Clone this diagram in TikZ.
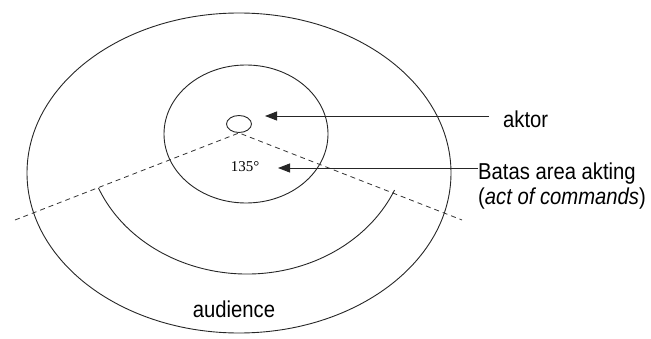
\documentclass[tikz,border=0pt]{standalone}
\usepackage{fontspec}
\setmainfont{Liberation Sans}[FakeStretch=0.88]
\newfontfamily\numfont{Liberation Serif}
\usetikzlibrary{arrows.meta,shapes.geometric,calc}
\begin{document}
\begin{tikzpicture}[x=1pt,y=1pt,
  ln/.style={draw=black!85,line width=0.9pt},
  ring/.style={ln,ellipse,inner sep=0pt},
  dsh/.style={draw=black!80,line width=0.8pt,dash pattern=on 5pt off 4pt},
  arr/.style={ln,-{Triangle[length=12pt,width=9pt]}},
  lbl/.style={inner sep=0pt,font=\fontsize{23}{24}\selectfont}]
\useasboundingbox (0,0) rectangle (651,338);
% rings
\node[ring,minimum width=424pt,minimum height=320pt] (outer) at (239,165) {};
\node[ring,minimum width=164pt,minimum height=138pt] (inner) at (246,204) {};
\node[ring,minimum width=25pt,minimum height=17pt] (actor) at (239,214) {};
% viewing angle
\coordinate (dl) at (15,118);
\coordinate (dr) at (462,118);
\draw[dsh] (dl) -- (actor.south) -- (dr);
% acting boundary arc
\coordinate (arcstart) at ($(247,204)+(202.7:161pt and 140pt)$);
\draw[ln] (arcstart) arc[start angle=202.7,end angle=336.4,x radius=161,y radius=140];
% labels
\node[lbl,anchor=base west] (aktor) at (503,210) {aktor};
\node[lbl,anchor=base west] (batas) at (478,158) {Batas area akting};
\node[lbl,anchor=base west] (actof) at (478,134) {(\textit{act of commands})};
\node[lbl,anchor=base] (aud) at (234,21) {audience};
\node[inner sep=0pt,font=\numfont\fontsize{15}{17}\selectfont] (deg) at (245,171) {135°};
% arrows
\coordinate (tipA) at (265,222);
\coordinate (tipB) at (278,170);
\draw[arr] ([xshift=-14pt]aktor.west |- tipA) -- (tipA);
\draw[arr] (batas.west |- tipB) -- (tipB);
\end{tikzpicture}
\end{document}
